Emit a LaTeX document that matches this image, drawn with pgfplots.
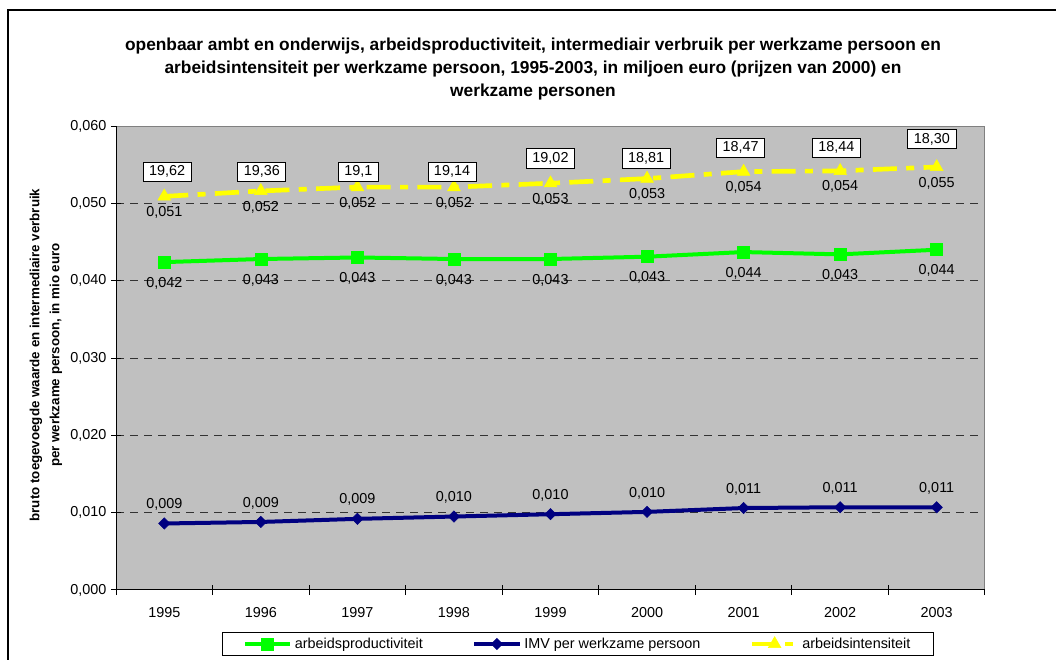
\documentclass[border=0pt]{standalone}
\usepackage{fontspec}
\setmainfont{Liberation Sans}
\usepackage{pgfplots}
\pgfplotsset{compat=1.18}
\definecolor{plotgray}{HTML}{C0C0C0}
\definecolor{exgreen}{HTML}{00FF00}
\definecolor{exnavy}{HTML}{000080}
\definecolor{exyellow}{HTML}{FFFF00}
\definecolor{bordergray}{HTML}{808080}
\definecolor{gridc}{HTML}{333333}
\newcommand{\numlab}{\pgfmathprintnumber[fixed,fixed zerofill,precision=3,use comma,assume math mode=true]{\pgfplotspointmeta}}
\newcommand{\lbfont}{\fontsize{10.8}{13}\selectfont}
\begin{document}
\begin{tikzpicture}
\useasboundingbox (0,0) rectangle (792pt,495pt);
\draw[line width=2pt] (6pt,-20pt) -- (6pt,487.5pt) -- (820pt,487.5pt);
\node[font=\fontsize{13}{17}\selectfont\bfseries, align=center] at (399.75pt,443.25pt)
 {openbaar ambt en onderwijs, arbeidsproductiviteit, intermediair verbruik per werkzame persoon en\\
  arbeidsintensiteit per werkzame persoon, 1995-2003, in miljoen euro (prijzen van 2000) en\\
  werkzame personen};
\node[font=\fontsize{10}{15}\selectfont\bfseries, align=center, rotate=90] at (34.5pt,228.75pt)
 {bruto toegevoegde waarde en intermediaire verbruik\\per werkzame persoon, in mio euro};
\begin{axis}[
  at={(87pt,52.5pt)}, anchor=south west,
  scale only axis, width=651.75pt, height=348pt,
  xmin=-0.5, xmax=8.5, ymin=0, ymax=0.06,
  xtick={0,...,8},
  xticklabels={1995,1996,1997,1998,1999,2000,2001,2002,2003},
  minor xtick={-0.5,0.5,...,8.5},
  major x tick style={draw=none},
  xticklabel style={yshift=-6pt},
  xtick pos=bottom, ytick pos=left,
  ytick={0,0.01,0.02,0.03,0.04,0.05,0.06},
  scaled y ticks=false,
  yticklabel style={/pgf/number format/.cd, fixed, fixed zerofill, precision=3, use comma},
  /pgf/number format/assume math mode=true,
  tick align=center, major tick length=7.5pt, minor tick length=7.5pt,
  tick style={black, line width=0.75pt},
  ymajorgrids,
  grid style={gridc, dash pattern=on 6pt off 4.5pt, line width=0.75pt},
  axis line style={draw=none},
  axis background/.style={fill=plotgray},
  tick label style={font=\lbfont},
  legend columns=3,
  legend image code/.code={\draw[#1,mark repeat=2,mark phase=2] plot coordinates {(0pt,0pt) (17pt,0pt) (34pt,0pt)};},
  legend style={at={(0.5316,-0.1164)}, anchor=center, draw=black, line width=0.75pt,
    font=\lbfont, inner xsep=15pt, inner ysep=2pt,
    /tikz/every even column/.append style={column sep=35pt}},
]
\addplot[exgreen, line width=3pt, mark=square*, mark size=4.5pt,
  mark options={solid, line width=0.4pt, fill=exgreen},
  point meta=y, nodes near coords={\numlab},
  every node near coord/.append style={text=black, anchor=center, yshift=-15.75pt, font=\lbfont}]
  coordinates {(0,0.0424) (1,0.0428) (2,0.0430) (3,0.0428) (4,0.0428) (5,0.0431) (6,0.0437) (7,0.0434) (8,0.0440)};
\addlegendentry{arbeidsproductiviteit}
\addplot[exnavy, line width=3pt, mark=square*, mark size=3pt,
  mark options={solid, rotate=45, line width=0.4pt, fill=exnavy},
  point meta=y, nodes near coords={\numlab},
  every node near coord/.append style={text=black, anchor=center, yshift=14.25pt, font=\lbfont}]
  coordinates {(0,0.0086) (1,0.0088) (2,0.0092) (3,0.0095) (4,0.0098) (5,0.0101) (6,0.0106) (7,0.0107) (8,0.0107)};
\addlegendentry{IMV per werkzame persoon}
\addplot[exyellow, line width=3.5pt, dash pattern=on 18pt off 7pt on 6pt off 7pt,
  mark=triangle*, mark size=5.5pt,
  mark options={solid, line width=0.4pt, fill=exyellow},
  point meta=y, nodes near coords={\numlab},
  every node near coord/.append style={text=black, anchor=center, yshift=-12pt, font=\lbfont}]
  coordinates {(0,0.0509) (1,0.0516) (2,0.0521) (3,0.0521) (4,0.0526) (5,0.0532) (6,0.0541) (7,0.0542) (8,0.0547)};
\addlegendentry{arbeidsintensiteit}
\addplot[draw=none, mark=none, forget plot,
  point meta=explicit symbolic, nodes near coords,
  every node near coord/.append style={text=black, draw=black, fill=white, line width=0.6pt,
    anchor=center, inner xsep=4.5pt, inner ysep=2.8pt, font=\lbfont}]
  table[meta=lab] {
x y lab
0.03 0.0541 19,62
1.01 0.0541 19,36
2.01 0.0541 19,1
2.98 0.0541 19,14
4.00 0.0558 19,02
4.99 0.0558 18,81
5.97 0.0572 18,47
6.96 0.0572 18,44
7.95 0.0583 18,30
};
\draw[bordergray, line width=0.75pt] (rel axis cs:0,1) -- (rel axis cs:1,1) -- (rel axis cs:1,0);
\draw[black, line width=0.75pt] (rel axis cs:0,1) -- (rel axis cs:0,0) -- (rel axis cs:1,0);
\end{axis}
\end{tikzpicture}
\end{document}
